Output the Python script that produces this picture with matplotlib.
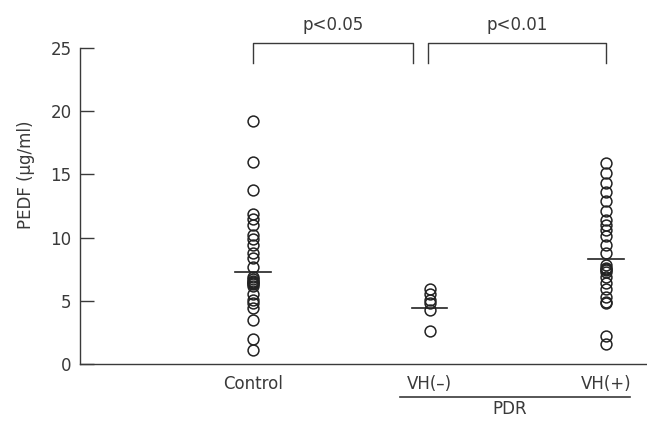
import matplotlib.pyplot as plt

plt.rcParams["font.family"] = ["DejaVu Sans"]

groups = ["Control", "VH(–)", "VH(+)"]
positions = [1, 2, 3]

control = [19.2, 16.0, 13.8, 11.9, 11.5, 11.0, 10.2, 9.9, 9.4, 8.8, 8.4, 7.7,
           6.9, 6.7, 6.6, 6.5, 6.4, 6.3, 6.2, 5.5, 5.1, 4.8, 4.4, 3.5, 2.0, 1.1]
vh_minus = [5.9, 5.5, 5.1, 4.8, 4.3, 2.6]
vh_plus = [15.9, 15.1, 14.3, 13.6, 12.9, 12.1, 11.4, 11.0, 10.6, 10.1, 9.4, 8.8,
           7.8, 7.6, 7.5, 7.4, 7.3, 6.9, 6.4, 5.9, 5.3, 4.9, 4.8, 2.2, 1.6]
means = [7.3, 4.45, 8.3]

pvalues = ["p<0.05", "p<0.01"]

ink = "#3a3a3a"
fs = 12

fig = plt.figure(figsize=(6.47, 4.23), dpi=100)
ax = fig.add_axes([80 / 647, 1 - 364 / 423, 1 - 80 / 647, 316 / 423])

for x, vals in zip(positions, [control, vh_minus, vh_plus]):
    ax.plot([x] * len(vals), vals, "o", ms=7.8, mfc="none", mec="#222222",
            mew=1.1, clip_on=False)
for x, m in zip(positions, means):
    ax.plot([x - 0.1, x + 0.1], [m, m], color="#222222", lw=1.2)

ax.set_xlim(1 - 173 / 176.5, 3 + 41 / 176.5)
ax.set_ylim(0, 25)
ax.set_yticks([0, 5, 10, 15, 20, 25])
ax.set_xticks(positions)
ax.set_xticklabels(groups)
ax.tick_params(axis="y", direction="in", length=10, width=1, color=ink,
               labelsize=fs, labelcolor=ink, pad=6)
ax.tick_params(axis="x", length=0, labelsize=fs, labelcolor=ink, pad=8)
ax.spines["top"].set_visible(False)
ax.spines["right"].set_visible(False)
for s in ["left", "bottom"]:
    ax.spines[s].set_color(ink)
    ax.spines[s].set_linewidth(1)
ax.set_ylabel("PEDF (μg/ml)", fontsize=fs, color=ink)
ax.yaxis.set_label_coords(-0.08, 0.6)

# significance brackets
brackets = [(1, 1.906), (1.99, 3.0)]
for (x0, x1), p in zip(brackets, pvalues):
    ax.plot([x0, x0, x1, x1], [23.8, 25.4, 25.4, 23.8], color=ink, lw=1,
            clip_on=False)
    ax.text((x0 + x1) / 2, 26.1, p, ha="center", va="bottom", fontsize=fs,
            color=ink)

# PDR grouping line
ax.plot([1.833, 3.136], [-2.61, -2.61], color=ink, lw=1.2, clip_on=False)
ax.text(2.456, -2.85, "PDR", ha="center", va="top", fontsize=fs, color=ink)

fig.savefig("out.png", dpi=100)
